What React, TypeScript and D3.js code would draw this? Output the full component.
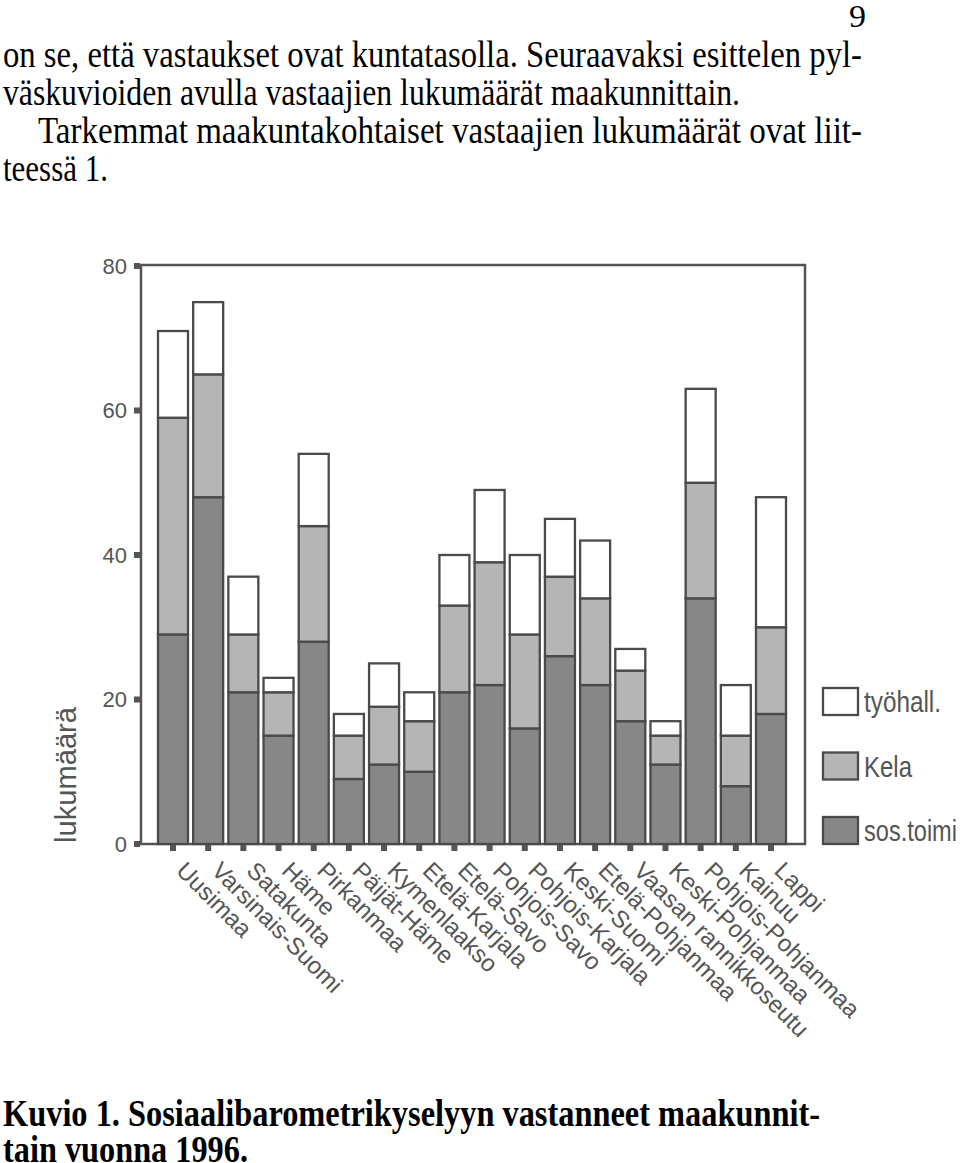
import React from 'react';
import * as d3 from 'd3';

const categories = [
  'Uusimaa', 'Varsinais-Suomi', 'Satakunta', 'Häme', 'Pirkanmaa', 'Päijät-Häme',
  'Kymenlaakso', 'Etelä-Karjala', 'Etelä-Savo', 'Pohjois-Savo', 'Pohjois-Karjala',
  'Keski-Suomi', 'Etelä-Pohjanmaa', 'Vaasan rannikkoseutu', 'Keski-Pohjanmaa',
  'Pohjois-Pohjanmaa', 'Kainuu', 'Lappi',
];
const sosToimi = [29, 48, 21, 15, 28, 9, 11, 10, 21, 22, 16, 26, 22, 17, 11, 34, 8, 18];
const kela = [30, 17, 8, 6, 16, 6, 8, 7, 12, 17, 13, 11, 12, 7, 4, 16, 7, 12];
const tyohall = [12, 10, 8, 2, 10, 3, 6, 4, 7, 10, 11, 8, 8, 3, 2, 13, 7, 18];
const seriesKeys = ['sos.toimi', 'Kela', 'työhall.'];
const seriesColors = ['#878787', '#b5b5b5', '#ffffff'];
const yTicks = [0, 20, 40, 60, 80];
const yLabel = 'lukumäärä';

const bodyLines = [
  { text: 'on se, että vastaukset ovat kuntatasolla. Seuraavaksi esittelen pyl-', x: 3, y: 67, w: 859 },
  { text: 'väskuvioiden avulla vastaajien lukumäärät maakunnittain.', x: 3, y: 105, w: 737 },
  { text: 'Tarkemmat maakuntakohtaiset vastaajien lukumäärät ovat liit-', x: 38, y: 143, w: 824 },
  { text: 'teessä 1.', x: 3, y: 181, w: 105 },
];
const captionLines = [
  { text: 'Kuvio 1. Sosiaalibarometrikyselyyn vastanneet maakunnit-', x: 3, y: 1126, w: 817 },
  { text: 'tain vuonna 1996.', x: 3, y: 1162, w: 245 },
];

const FRAME = { left: 141, top: 265, right: 805, bottom: 844 };
const AXIS = '#555555';
const FONT = 'Liberation Sans, Arial, Helvetica, sans-serif';
const SERIF = 'Liberation Serif, Times New Roman, serif';

export default function App() {
  const rows = categories.map((c, i) => ({
    cat: c,
    'sos.toimi': sosToimi[i],
    Kela: kela[i],
    'työhall.': tyohall[i],
  }));
  const stack = d3.stack<any>().keys(seriesKeys)(rows);
  const x = d3.scalePoint<string>().domain(categories).range([173, 771]);
  const y = d3.scaleLinear().domain([0, 80]).range([FRAME.bottom, 266]);
  const barW = 30;

  return (
    <svg
      width={960}
      height={1163}
      style={{ position: 'absolute', left: 0, top: 0, background: '#fff' }}
    >
      <rect x={0} y={0} width={960} height={1163} fill="#fff" />
      <text x={849} y={27} fontFamily={SERIF} fontSize={31} textLength={17} lengthAdjust="spacingAndGlyphs">9</text>
      {bodyLines.map((l, i) => (
        <text key={i} x={l.x} y={l.y} fontFamily={SERIF} fontSize={37} textLength={l.w} lengthAdjust="spacingAndGlyphs" fill="#000">
          {l.text}
        </text>
      ))}

      {/* frame */}
      <rect x={FRAME.left} y={FRAME.top} width={FRAME.right - FRAME.left} height={FRAME.bottom - FRAME.top}
        fill="none" stroke={AXIS} strokeWidth={2.5} />

      {/* bars */}
      {stack.map((s, si) => (
        <g key={s.key}>
          {s.map((d: any, i: number) => (
            <rect key={i}
              x={(x(categories[i]) as number) - barW / 2}
              y={y(d[1])}
              width={barW}
              height={y(d[0]) - y(d[1])}
              fill={seriesColors[si]}
              stroke="#4a4a4a"
              strokeWidth={2.3}
            />
          ))}
        </g>
      ))}

      {/* y ticks */}
      {yTicks.map((t) => (
        <g key={t}>
          <rect x={134} y={y(t) - 3} width={6} height={6} fill={AXIS} />
          <text x={127} y={y(t)} dy="0.36em" textAnchor="end" fontFamily={FONT} fontSize={22} fill={AXIS}>{t}</text>
        </g>
      ))}

      {/* x ticks and labels */}
      {categories.map((c) => (
        <g key={c}>
          <rect x={(x(c) as number) - 3} y={845} width={6} height={6} fill={AXIS} />
          <text transform={`translate(${(x(c) as number) + 2},${872}) rotate(45)`}
            fontFamily={FONT} fontSize={24} fill={AXIS}>{c}</text>
        </g>
      ))}

      {/* y label */}
      <text transform={`translate(76,${843}) rotate(-90)`} fontFamily={FONT} fontSize={30} fill={AXIS}
        textLength={136} lengthAdjust="spacingAndGlyphs">{yLabel}</text>

      {/* legend */}
      {[2, 1, 0].map((si, k) => (
        <g key={si}>
          <rect x={823} y={688 + k * 64.5} width={35} height={27} fill={seriesColors[si]} stroke="#4a4a4a" strokeWidth={2.3} />
          <text x={864} y={712 + k * 64.5} fontFamily={FONT} fontSize={29} fill={AXIS}
            textLength={[77, 48, 93][k]} lengthAdjust="spacingAndGlyphs">{seriesKeys[si]}</text>
        </g>
      ))}

      {captionLines.map((l, i) => (
        <text key={i} x={l.x} y={l.y} fontFamily={SERIF} fontWeight="bold" fontSize={37} textLength={l.w} lengthAdjust="spacingAndGlyphs" fill="#000">
          {l.text}
        </text>
      ))}
    </svg>
  );
}
